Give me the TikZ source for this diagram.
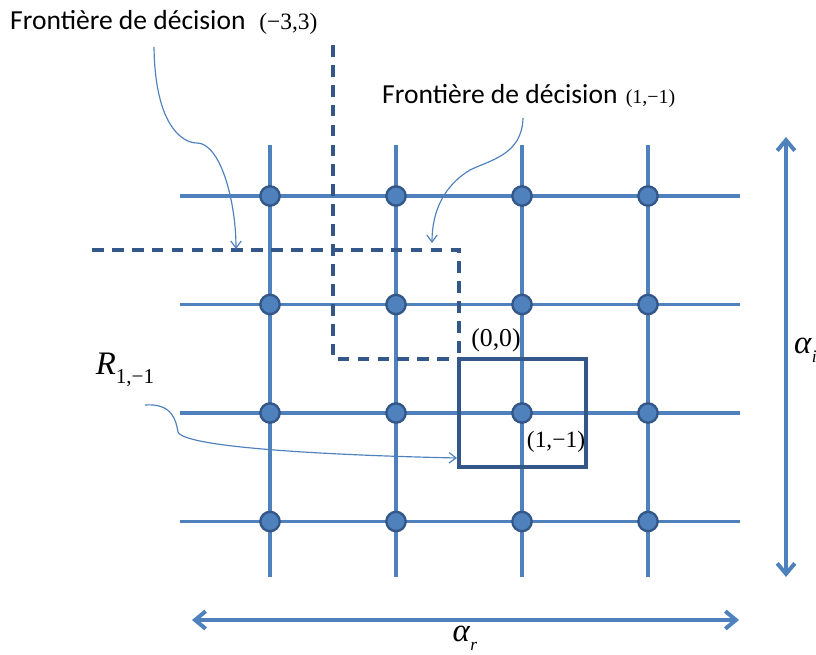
\documentclass[tikz,border=0pt]{standalone}
\usepackage{fontspec}
\setmainfont{Carlito}
\newfontfamily\tms{Liberation Serif}
\usetikzlibrary{arrows.meta}
\definecolor{gridblue}{HTML}{4F81BD}
\definecolor{darkblue}{HTML}{34578A}

\begin{document}
\begin{tikzpicture}[x=0.03cm, y=-0.03cm]
  \useasboundingbox (0,0) rectangle (816,655);

  % lattice
  \foreach \x in {270,396,522,648}
    \draw[gridblue, line width=3.4pt] (\x,145) -- (\x,577);
  \foreach \y in {196,304.5,413,521.5}
    \draw[gridblue, line width=3.4pt] (180,\y) -- (740,\y);

  % decision boundaries
  \coordinate (A1) at (333,45);
  \coordinate (A2) at (333,359);
  \coordinate (A3) at (459,359);
  \coordinate (B1) at (92,250);
  \coordinate (B2) at (459,250);
  \coordinate (C1) at (586,467);
  \draw[darkblue, line width=3pt, dash pattern=on 10pt off 7pt] (A1) -- (A2) -- (A3);
  \draw[darkblue, line width=3pt, dash pattern=on 10pt off 7pt] (B1) -- (B2) -- (A3);
  \draw[darkblue, line width=2.8pt] (A3) rectangle (C1);

  % points
  \foreach \x/\i in {270/1,396/2,522/3,648/4}
    \foreach \y/\j in {196/1,304.5/2,413/3,521.5/4}
      \node[circle, fill=gridblue, draw=darkblue, line width=2pt,
            minimum size=16.5pt, inner sep=0pt] (p\i\j) at (\x,\y) {};

  % labels
  \node[right, inner sep=0pt, font=\fontsize{23.5}{26}\selectfont] (F1) at (10,22)
    {Frontière de décision\hspace{0.5em}{\tms\fontsize{20}{22}\selectfont(−3,3)}};
  \node[right, inner sep=0pt, font=\fontsize{23.5}{26}\selectfont] (F2) at (382,96)
    {Frontière de décision\hspace{0.3em}{\tms\fontsize{17}{20}\selectfont(1,−1)}};
  \node[font=\tms\fontsize{22}{24}\selectfont] (O) at (496,340) {(0,0)};
  \node[font=\tms\fontsize{20}{22}\selectfont] (M) at (556,442) {(1,−1)};
  \node[font=\tms\fontsize{28}{30}\selectfont] (R) at (125,370)
    {\textit{R}\raisebox{-0.28em}{\fontsize{18}{20}\selectfont 1,−1}};
  \node[right, font=\tms\fontsize{28}{30}\selectfont] (AI) at (790,350)
    {\textit{α}\raisebox{-0.28em}{\fontsize{15}{17}\selectfont\textit{i}}};
  \node[font=\tms\fontsize{28}{30}\selectfont] (AR) at (465,638)
    {\textit{α}\raisebox{-0.28em}{\fontsize{15}{17}\selectfont\textit{r}}};

  % axes
  \coordinate (I1) at (786,137);
  \coordinate (I2) at (786,577);
  \coordinate (R1) at (192,620);
  \coordinate (R2) at (739,620);
  \draw[gridblue, line width=3.4pt, {Straight Barb[length=9pt,width=15pt]}-{Straight Barb[length=9pt,width=15pt]}] (I1) -- (I2);
  \draw[gridblue, line width=3.4pt, {Straight Barb[length=9pt,width=15pt]}-{Straight Barb[length=9pt,width=15pt]}] (R1) -- (R2);

  % pointers
  \coordinate (S1) at (154,47);
  \coordinate (E1) at (236,249);
  \coordinate (S2) at (523,118);
  \coordinate (E2) at (432,243);
  \coordinate (S3) at (145,405);
  \coordinate (E3) at (457,458);
  \draw[gridblue, line width=1pt, -{Straight Barb[length=6pt,width=9pt]}]
    (S1) .. controls (155,125) and (182,143) .. (197,143) .. controls (220,143) and (236,200) .. (E1);
  \draw[gridblue, line width=1pt, -{Straight Barb[length=6pt,width=9pt]}]
    (S2) .. controls (522,155) and (490,160) .. (470,170) .. controls (445,185) and (432,210) .. (E2);
  \draw[gridblue, line width=1pt, -{Straight Barb[length=6pt,width=9pt]}]
    (S3) .. controls (172,403) and (176,420) .. (178,432) .. controls (184,447) and (320,455) .. (E3);
\end{tikzpicture}
\end{document}
